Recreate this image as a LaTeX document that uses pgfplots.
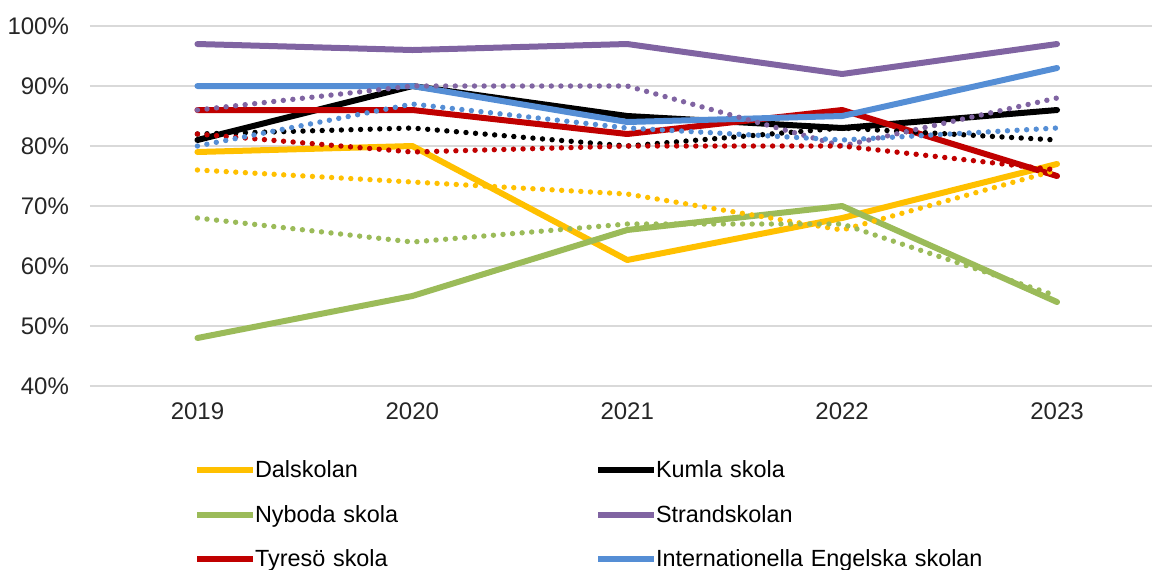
\documentclass[border=0pt]{standalone}
\usepackage{fontspec}
\setmainfont{Liberation Sans}
\usepackage{pgfplots}
\pgfplotsset{compat=1.18}
\definecolor{cY}{HTML}{FFC000}
\definecolor{cK}{HTML}{000000}
\definecolor{cG}{HTML}{9BBB59}
\definecolor{cP}{HTML}{8064A2}
\definecolor{cR}{HTML}{C00000}
\definecolor{cB}{HTML}{558ED5}
\definecolor{gridgray}{HTML}{D9D9D9}
\newcommand{\legline}[1]{\textcolor{#1}{\rule[2.4pt]{28pt}{3pt}}\hspace{1pt}}
\pgfplotsset{
  solidline/.style={forget plot, line width=3pt, line join=round, line cap=round},
  dotline/.style={forget plot, line width=2.7pt, line cap=round, dash pattern=on 0pt off 4.8pt},
}
\begin{document}
\begin{tikzpicture}
\useasboundingbox (0,0) rectangle (576pt,284.5pt);
\begin{axis}[
  at={(45pt,91.5pt)}, anchor=south west,
  scale only axis, width=531pt, height=180pt,
  xmin=-0.5, xmax=4.442, ymin=40, ymax=100,
  xtick={0,1,2,3,4}, xticklabels={2019,2020,2021,2022,2023},
  ytick={40,50,60,70,80,90,100},
  yticklabels={40\%,50\%,60\%,70\%,80\%,90\%,100\%},
  ymajorgrids, grid style={color=gridgray, line width=0.9pt},
  axis line style={draw=none}, major tick length=0pt,
  tick label style={font=\fontsize{12}{14}\selectfont, text=black!85},
  yticklabel style={xshift=-7pt},
  xticklabel style={yshift=-5pt},
  clip=false,
  legend columns=2,
  legend cell align=left,
  legend style={at={(axis description cs:0.1008,-0.2083)}, anchor=north west,
    draw=none, fill=none, inner sep=0pt, outer sep=0pt,
    font=\fontsize{11.7}{14}\selectfont, row sep=11.25pt,
    nodes={inner sep=0pt, text height=8.5pt, text depth=2.5pt, text width=200.5pt},
    /tikz/every odd column/.append style={column sep=0pt},
    /tikz/every even column/.append style={column sep=0pt}},
]
% solid lines
\addplot[cY, solidline] coordinates {(0,79)(1,80)(2,61)(3,68)(4,77)};
\addplot[cK, solidline] coordinates {(0,81)(1,90)(2,85)(3,83)(4,86)};
\addplot[cG, solidline] coordinates {(0,48)(1,55)(2,66)(3,70)(4,54)};
\addplot[cP, solidline] coordinates {(0,97)(1,96)(2,97)(3,92)(4,97)};
\addplot[cR, solidline] coordinates {(0,86)(1,86)(2,82)(3,86)(4,75)};
\addplot[cB, solidline] coordinates {(0,90)(1,90)(2,84)(3,85)(4,93)};
% dotted lines
\addplot[cY, dotline] coordinates {(0,76)(1,74)(2,72)(3,66)(4,76)};
\addplot[cK, dotline] coordinates {(0,82)(1,83)(2,80)(3,83)(4,81)};
\addplot[cG, dotline] coordinates {(0,68)(1,64)(2,67)(3,67)(4,55)};
\addplot[cP, dotline] coordinates {(0,86)(1,90)(2,90)(3,80)(4,88)};
\addplot[cR, dotline] coordinates {(0,82)(1,79)(2,80)(3,80)(4,76)};
\addplot[cB, dotline] coordinates {(0,80)(1,87)(2,83)(3,81)(4,83)};
% legend
\addlegendimage{empty legend}\addlegendentry{\legline{cY}Dalskolan}
\addlegendimage{empty legend}\addlegendentry{\legline{cK}Kumla skola}
\addlegendimage{empty legend}\addlegendentry{\legline{cG}Nyboda skola}
\addlegendimage{empty legend}\addlegendentry{\legline{cP}Strandskolan}
\addlegendimage{empty legend}\addlegendentry{\legline{cR}Tyresö skola}
\addlegendimage{empty legend}\addlegendentry{\legline{cB}Internationella Engelska skolan}
\end{axis}
\end{tikzpicture}
\end{document}
